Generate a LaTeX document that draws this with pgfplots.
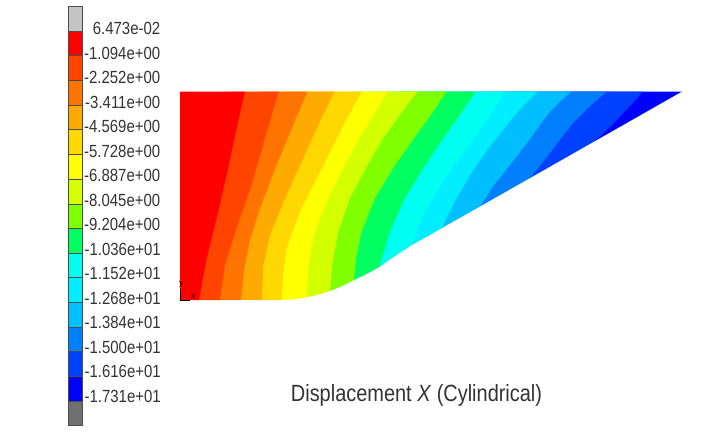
\documentclass[border=0pt]{standalone}
\usepackage{pgfplots}
\pgfplotsset{compat=1.18}
\usepackage{fontspec}
\setmainfont{Liberation Sans}
\newfontfamily\nar[FakeStretch=0.85]{Liberation Sans}
\definecolor{c0}{HTML}{FF0000}
\definecolor{c1}{HTML}{FF4400}
\definecolor{c2}{HTML}{FF7300}
\definecolor{c3}{HTML}{FFAA00}
\definecolor{c4}{HTML}{FFD800}
\definecolor{c5}{HTML}{FFFF00}
\definecolor{c6}{HTML}{D4FF00}
\definecolor{c7}{HTML}{80FF00}
\definecolor{c8}{HTML}{00FF60}
\definecolor{c9}{HTML}{00FFF0}
\definecolor{c10}{HTML}{00EEFF}
\definecolor{c11}{HTML}{00BFFF}
\definecolor{c12}{HTML}{0080FF}
\definecolor{c13}{HTML}{0040FF}
\definecolor{c14}{HTML}{0000FF}
\definecolor{ctop}{HTML}{C4C4C4}
\definecolor{cbot}{HTML}{707070}
\definecolor{txt}{HTML}{333333}
\tikzset{
  lab/.style={anchor=east, font=\nar\fontsize{13.2}{14}\selectfont, text=txt, inner sep=0pt},
  seg/.style={draw=black!70, line width=0.5pt},
  band/.style={draw=none},
}
\begin{document}
\begin{tikzpicture}
\begin{axis}[
  scale only axis, width=546pt, height=324.75pt,
  xmin=0, xmax=728, ymin=0, ymax=433, y dir=reverse,
  hide axis, clip=false,
]
\path (axis cs:0,0) rectangle (axis cs:728,433);
% contour bands, painted from right to left; each one runs a little under the next
\addplot[band, fill=c14] coordinates {(641,91.5)(682,91.5)(595,141)(593,139)(181,298)(181,93)} -- cycle;
\addplot[band, fill=c13] coordinates {(604.7,91.5)(643,91.5)(632,104)(620,116.7)(608,129)(595,141)(530,178)(528,176)(181,298)(181,93)} -- cycle;
\addplot[band, fill=c12] coordinates {(569,91.5)(606.7,91.5)(590,106)(573,123)(560,139.5)(550,153)(530,178)(480,206.4)(478,204.4)(181,298)(181,93)} -- cycle;
\addplot[band, fill=c11] coordinates {(535.7,91.5)(571,91.5)(560,101.5)(550,111.7)(540,125)(530,139)(510,165)(493.3,186)(480,206.4)(441.7,228.1)(439.7,226)(181,298)(181,93)} -- cycle;
\addplot[band, fill=c10] coordinates {(503,91.5)(537.7,91.5)(525,104)(510,121)(490,146.3)(473.3,169.7)(456.7,198)(441.7,228.1)(430,235)(411.7,245)(409.7,243)(181,298)(181,93)} -- cycle;
\addplot[band, fill=c9] coordinates {(473.7,91.5)(505,91.5)(490,114.7)(473.3,139.7)(453.3,166)(436.7,191.3)(421.7,218)(411.7,245)(395,256)(379.3,267)(377.3,265)(181,298)(181,93)} -- cycle;
\addplot[band, fill=c8] coordinates {(444.7,91.5)(475.7,91.5)(460,114.7)(443.3,138)(423.3,168)(405,198)(390,231.3)(379.3,267)(366.5,274)(354,280)(352,278)(181,298)(181,93)} -- cycle;
\addplot[band, fill=c7] coordinates {(415.3,91.5)(446.7,91.5)(430,116.3)(411.7,141.3)(393.3,168)(375,198)(361.7,231.3)(356.7,254.7)(354,280)(342,286)(330,291)(328,289)(181,298)(181,93)} -- cycle;
\addplot[band, fill=c6] coordinates {(386.3,91.5)(417.3,91.5)(400,114.7)(383.3,138)(366.7,166.3)(350,198)(338.3,231.3)(332.7,261.3)(330,291)(318.5,294.6)(306.7,297.3)(304.7,295.3)(181,298)(181,93)} -- cycle;
\addplot[band, fill=c5] coordinates {(359.7,91.5)(388.3,91.5)(373.3,114.7)(356.7,143)(341.7,171.3)(330,195)(320,217)(312,243)(308,270)(306.7,297.3)(295,299.3)(282,300)(280,298)(181,298)(181,93)} -- cycle;
\addplot[band, fill=c4] coordinates {(332.7,91.5)(361.7,91.5)(350,113)(340,132)(330,152)(320,172)(300,211.3)(286.7,248)(283,275)(282,300)(261.7,300)(259.7,298)(181,298)(181,93)} -- cycle;
\addplot[band, fill=c3] coordinates {(305.3,91.5)(334.7,91.5)(320,121.3)(303.3,158)(286.7,194.7)(270,234.7)(263.5,264.7)(261.7,300)(241,300)(239,298)(181,298)(181,93)} -- cycle;
\addplot[band, fill=c2] coordinates {(276.7,91.5)(307.3,91.5)(293.3,124.7)(276.7,164.7)(260,208)(250,240)(244,270)(241,300)(220,300)(218,298)(181,298)(181,93)} -- cycle;
\addplot[band, fill=c1] coordinates {(243,91.5)(278.7,91.5)(265,138)(251.7,184.7)(236.7,228)(225,264.7)(220,300)(199,300)(197,298)(181,298)(181,93)} -- cycle;
\addplot[band, fill=c0] coordinates {(180,91.5)(245,91.5)(236.7,128)(226.7,174.7)(216.7,218)(206.7,258)(199,300)(180,300)} -- cycle;
% colour bar
\addplot[seg, fill=ctop] coordinates {(68.3,6.5)(82.3,6.5)(82.3,31)(68.3,31)} -- cycle;
\addplot[seg, fill=c0] coordinates {(68.3,31)(82.3,31)(82.3,55.6)(68.3,55.6)} -- cycle;
\addplot[seg, fill=c1] coordinates {(68.3,55.6)(82.3,55.6)(82.3,80.2)(68.3,80.2)} -- cycle;
\addplot[seg, fill=c2] coordinates {(68.3,80.2)(82.3,80.2)(82.3,105)(68.3,105)} -- cycle;
\addplot[seg, fill=c3] coordinates {(68.3,105)(82.3,105)(82.3,129.8)(68.3,129.8)} -- cycle;
\addplot[seg, fill=c4] coordinates {(68.3,129.8)(82.3,129.8)(82.3,154.6)(68.3,154.6)} -- cycle;
\addplot[seg, fill=c5] coordinates {(68.3,154.6)(82.3,154.6)(82.3,179.3)(68.3,179.3)} -- cycle;
\addplot[seg, fill=c6] coordinates {(68.3,179.3)(82.3,179.3)(82.3,204)(68.3,204)} -- cycle;
\addplot[seg, fill=c7] coordinates {(68.3,204)(82.3,204)(82.3,228.4)(68.3,228.4)} -- cycle;
\addplot[seg, fill=c8] coordinates {(68.3,228.4)(82.3,228.4)(82.3,253.2)(68.3,253.2)} -- cycle;
\addplot[seg, fill=c9] coordinates {(68.3,253.2)(82.3,253.2)(82.3,277.7)(68.3,277.7)} -- cycle;
\addplot[seg, fill=c10] coordinates {(68.3,277.7)(82.3,277.7)(82.3,302.3)(68.3,302.3)} -- cycle;
\addplot[seg, fill=c11] coordinates {(68.3,302.3)(82.3,302.3)(82.3,327.2)(68.3,327.2)} -- cycle;
\addplot[seg, fill=c12] coordinates {(68.3,327.2)(82.3,327.2)(82.3,351.7)(68.3,351.7)} -- cycle;
\addplot[seg, fill=c13] coordinates {(68.3,351.7)(82.3,351.7)(82.3,376.3)(68.3,376.3)} -- cycle;
\addplot[seg, fill=c14] coordinates {(68.3,376.3)(82.3,376.3)(82.3,401)(68.3,401)} -- cycle;
\addplot[seg, fill=cbot] coordinates {(68.3,401)(82.3,401)(82.3,425.3)(68.3,425.3)} -- cycle;
% triad
\addplot[black, line width=0.5pt] coordinates {(180,289)(180,300.6)(190,300.6)};
\node[font=\fontsize{6}{6}\selectfont, inner sep=0pt] at (axis cs:181,284) {y};
\node[font=\fontsize{6}{6}\selectfont, inner sep=0pt] at (axis cs:193,296) {x};
% colour bar labels
\node[lab] at (axis cs:160.5,28.5) {6.473e-02};
\node[lab] at (axis cs:160.5,53) {-1.094e+00};
\node[lab] at (axis cs:160.5,77.5) {-2.252e+00};
\node[lab] at (axis cs:160.5,102) {-3.411e+00};
\node[lab] at (axis cs:160.5,126.5) {-4.569e+00};
\node[lab] at (axis cs:160.5,151) {-5.728e+00};
\node[lab] at (axis cs:160.5,175.5) {-6.887e+00};
\node[lab] at (axis cs:160.5,200) {-8.045e+00};
\node[lab] at (axis cs:160.5,224.5) {-9.204e+00};
\node[lab] at (axis cs:161,249) {-1.036e+01};
\node[lab] at (axis cs:161,273.5) {-1.152e+01};
\node[lab] at (axis cs:161,298) {-1.268e+01};
\node[lab] at (axis cs:161,322.5) {-1.384e+01};
\node[lab] at (axis cs:161,347) {-1.500e+01};
\node[lab] at (axis cs:161,371.5) {-1.616e+01};
\node[lab] at (axis cs:161,396) {-1.731e+01};
\node[anchor=center, inner sep=0pt, text=txt, font=\nar\fontsize{17.6}{18}\selectfont] at (axis cs:416.5,395.5) {Displacement \textit{X} (Cylindrical)};
\end{axis}
\end{tikzpicture}
\end{document}
